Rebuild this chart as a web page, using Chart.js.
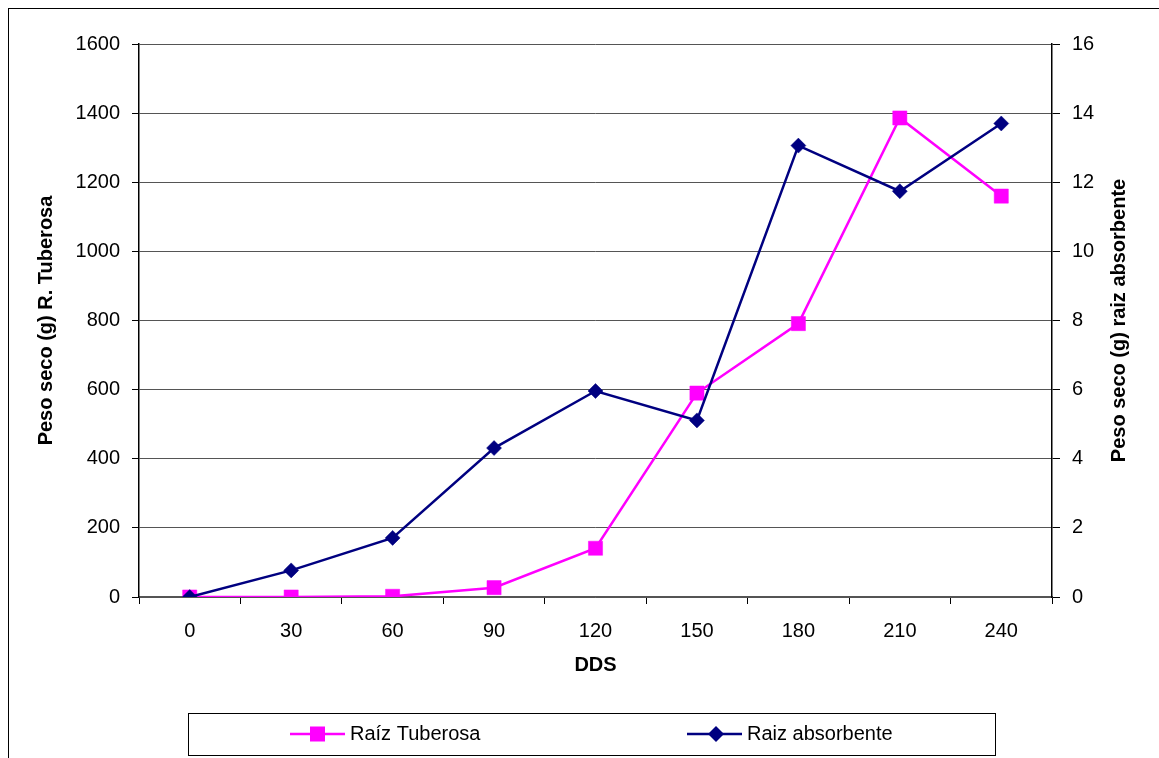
<!DOCTYPE html>
<html>
<head>
<meta charset="utf-8">
<script src="https://cdn.jsdelivr.net/npm/chart.js@4.4.1/dist/chart.umd.min.js"></script>
<style>
  html, body { margin: 0; padding: 0; background: #fff; }
  #wrap { position: relative; width: 1159px; height: 758px; }
</style>
</head>
<body>
<div id="wrap"><canvas id="c" width="1159" height="758"></canvas></div>
<script>
// Days after sowing (DDS)
const categories = ['0', '30', '60', '90', '120', '150', '180', '210', '240'];
// Dry weight of the tuberous root (g), left axis
const raizTuberosa = [0, 0, 2, 27, 141, 590, 791, 1386, 1160];
// Dry weight of the absorbent root (g), right axis
const raizAbsorbente = [0, 0.77, 1.71, 4.31, 5.96, 5.11, 13.06, 11.74, 13.7];
const leftTicks = [0, 200, 400, 600, 800, 1000, 1200, 1400, 1600];
const rightTicks = [0, 2, 4, 6, 8, 10, 12, 14, 16];

const seriesNames = ['Raíz Tuberosa', 'Raiz absorbente'];
const rightTitle = 'Peso seco (g) raiz absorbente';
const MAGENTA = '#FF00FF';
const NAVY = '#000080';
const FONT = 'Arial, "Liberation Sans", sans-serif';

// Outer frame, right-hand axis title (reading bottom to top) and the boxed legend
const framePlugin = {
  id: 'frameAndLegend',
  afterDraw(chart) {
    const ctx = chart.ctx;
    const area = chart.chartArea;
    ctx.save();
    ctx.strokeStyle = '#000';
    ctx.lineWidth = 1;
    ctx.strokeRect(8.5, 8.5, 1160, 770);

    // right axis title
    ctx.save();
    ctx.translate(1119, (area.top + area.bottom) / 2);
    ctx.rotate(-Math.PI / 2);
    ctx.font = 'bold 20px ' + FONT;
    ctx.fillStyle = '#000';
    ctx.textAlign = 'center';
    ctx.textBaseline = 'middle';
    ctx.fillText(rightTitle, 0, 0);
    ctx.restore();

    // legend box
    ctx.strokeRect(188.5, 713.5, 807, 42);
    const ly = 734;
    ctx.font = '20px ' + FONT;
    ctx.textBaseline = 'middle';
    ctx.textAlign = 'left';

    // first entry: magenta line with square marker
    ctx.strokeStyle = MAGENTA;
    ctx.lineWidth = 2.5;
    ctx.beginPath(); ctx.moveTo(290, ly); ctx.lineTo(345, ly); ctx.stroke();
    ctx.fillStyle = MAGENTA;
    ctx.fillRect(310, ly - 7.5, 15, 15);
    ctx.fillStyle = '#000';
    ctx.fillText(seriesNames[0], 350, ly);

    // second entry: navy line with diamond marker
    ctx.strokeStyle = NAVY;
    ctx.beginPath(); ctx.moveTo(687, ly); ctx.lineTo(742, ly); ctx.stroke();
    ctx.fillStyle = NAVY;
    ctx.beginPath();
    ctx.moveTo(716, ly - 8); ctx.lineTo(724, ly); ctx.lineTo(716, ly + 8); ctx.lineTo(708, ly);
    ctx.closePath(); ctx.fill();
    ctx.fillStyle = '#000';
    ctx.fillText(seriesNames[1], 747, ly);
    ctx.restore();
  }
};

new Chart(document.getElementById('c'), {
  type: 'line',
  data: {
    labels: categories,
    datasets: [
      {
        label: seriesNames[0],
        data: raizTuberosa,
        yAxisID: 'yLeft',
        borderColor: MAGENTA,
        backgroundColor: MAGENTA,
        borderWidth: 2.5,
        pointStyle: 'rect',
        pointRadius: 10,
        pointBorderWidth: 0.5,
        pointBackgroundColor: MAGENTA,
        pointBorderColor: MAGENTA,
        tension: 0,
        order: 2
      },
      {
        label: seriesNames[1],
        data: raizAbsorbente,
        yAxisID: 'yRight',
        borderColor: NAVY,
        backgroundColor: NAVY,
        borderWidth: 2.5,
        pointStyle: 'rectRot',
        pointRadius: 7.5,
        pointBorderWidth: 0.5,
        pointBackgroundColor: NAVY,
        pointBorderColor: NAVY,
        tension: 0,
        order: 1
      }
    ]
  },
  options: {
    responsive: false,
    animation: false,
    layout: { padding: { left: 0, right: 0, top: 44, bottom: 0 } },
    plugins: {
      legend: { display: false },
      tooltip: { enabled: false }
    },
    scales: {
      x: {
        type: 'category',
        offset: true,
        afterFit(scale) { scale.height = 161; },
        grid: {
          offset: true,
          drawOnChartArea: false,
          drawTicks: true,
          tickLength: 7,
          tickColor: '#000'
        },
        border: { display: true, color: '#555', width: 1.5 },
        ticks: {
          color: '#000',
          font: { family: FONT, size: 20 },
          padding: 15,
          maxRotation: 0
        },
        title: {
          display: true,
          text: 'DDS',
          color: '#000',
          font: { family: FONT, size: 20, weight: 'bold' },
          padding: { top: 0, bottom: 81 }
        }
      },
      yLeft: {
        type: 'linear',
        position: 'left',
        min: 0,
        max: 1600,
        afterFit(scale) { scale.width = 139; },
        afterBuildTicks(scale) { scale.ticks = leftTicks.map(v => ({ value: v })); },
        grid: {
          color: '#555',
          lineWidth: 1,
          drawTicks: true,
          tickLength: 7,
          tickColor: '#000'
        },
        border: { display: true, color: '#000', width: 1.5 },
        ticks: {
          color: '#000',
          font: { family: FONT, size: 20 },
          padding: 12,
          callback: (v) => String(v)
        },
        title: {
          display: true,
          text: 'Peso seco (g) R. Tuberosa',
          color: '#000',
          font: { family: FONT, size: 20, weight: 'bold' },
          padding: { top: 34, bottom: 0 }
        }
      },
      yRight: {
        type: 'linear',
        position: 'right',
        min: 0,
        max: 16,
        afterFit(scale) { scale.width = 107; },
        afterBuildTicks(scale) { scale.ticks = rightTicks.map(v => ({ value: v })); },
        grid: {
          drawOnChartArea: false,
          drawTicks: true,
          tickLength: 8,
          tickColor: '#000'
        },
        border: { display: true, color: '#000', width: 1.5 },
        ticks: {
          color: '#000',
          font: { family: FONT, size: 20 },
          padding: 12,
          callback: (v) => String(v)
        },
        title: { display: false }
      }
    }
  },
  plugins: [framePlugin]
});
</script>
</body>
</html>
